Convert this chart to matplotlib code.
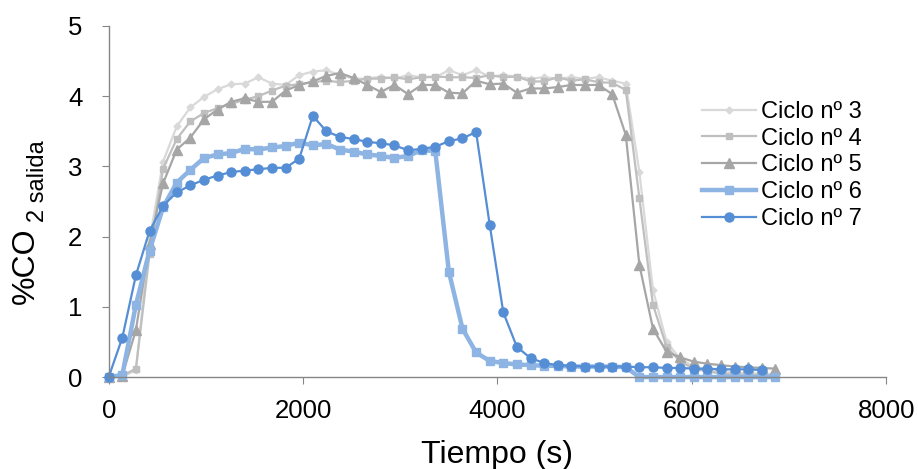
import matplotlib.pyplot as plt

plt.rcParams['font.family'] = ['Liberation Sans', 'DejaVu Sans']

# Tiempo (s), muestreo cada 140 s
tiempo = [0, 140, 280, 420, 560, 700, 840, 980, 1120, 1260,
          1400, 1540, 1680, 1820, 1960, 2100, 2240, 2380, 2520, 2660,
          2800, 2940, 3080, 3220, 3360, 3500, 3640, 3780, 3920, 4060,
          4200, 4340, 4480, 4620, 4760, 4900, 5040, 5180, 5320, 5460,
          5600, 5740, 5880, 6020, 6160, 6300, 6440, 6580, 6720, 6860]

ciclo3 = [0.00, 0.00, 0.10, 1.95, 3.07, 3.57, 3.84, 3.99, 4.10, 4.17,
          4.18, 4.27, 4.18, 4.16, 4.30, 4.35, 4.37, 4.30, 4.25, 4.25,
          4.28, 4.25, 4.30, 4.27, 4.27, 4.37, 4.30, 4.37, 4.28, 4.30,
          4.28, 4.25, 4.27, 4.25, 4.27, 4.25, 4.27, 4.22, 4.18, 2.92,
          1.24, 0.50, 0.26, 0.15, 0.10, 0.08, 0.06, 0.05, 0.05, 0.04]

ciclo4 = [0.00, 0.02, 0.12, 1.75, 2.97, 3.39, 3.64, 3.76, 3.83, 3.89,
          3.95, 4.00, 4.08, 4.15, 4.17, 4.20, 4.22, 4.20, 4.22, 4.25,
          4.25, 4.27, 4.24, 4.27, 4.28, 4.27, 4.27, 4.26, 4.30, 4.27,
          4.28, 4.21, 4.21, 4.27, 4.22, 4.24, 4.20, 4.19, 4.09, 2.55,
          1.03, 0.43, 0.22, 0.12, 0.08, 0.05, 0.04, 0.03, 0.03, 0.02]

ciclo5 = [0.00, 0.02, 0.67, 1.90, 2.76, 3.24, 3.41, 3.67, 3.81, 3.92,
          3.97, 3.92, 3.92, 4.08, 4.16, 4.21, 4.29, 4.33, 4.26, 4.16,
          4.06, 4.16, 4.03, 4.16, 4.16, 4.05, 4.04, 4.22, 4.17, 4.18,
          4.05, 4.11, 4.11, 4.13, 4.16, 4.16, 4.16, 4.03, 3.45, 1.60,
          0.69, 0.36, 0.28, 0.22, 0.19, 0.17, 0.15, 0.14, 0.13, 0.12]

ciclo6 = [0.00, 0.03, 1.03, 1.80, 2.42, 2.77, 2.95, 3.12, 3.17, 3.19,
          3.25, 3.24, 3.27, 3.29, 3.34, 3.30, 3.32, 3.24, 3.21, 3.17,
          3.15, 3.12, 3.15, 3.23, 3.22, 1.50, 0.69, 0.35, 0.23, 0.20,
          0.18, 0.17, 0.16, 0.16, 0.15, 0.15, 0.15, 0.15, 0.14, 0.00,
          0.00, 0.00, 0.00, 0.00, 0.00, 0.00, 0.00, 0.00, 0.00, 0.00]

ciclo7 = [0.00, 0.56, 1.45, 2.08, 2.44, 2.63, 2.73, 2.81, 2.87, 2.92,
          2.94, 2.96, 2.98, 2.98, 3.11, 3.72, 3.50, 3.42, 3.39, 3.35,
          3.33, 3.30, 3.23, 3.25, 3.28, 3.36, 3.40, 3.49, 2.17, 0.92,
          0.43, 0.27, 0.20, 0.17, 0.16, 0.15, 0.15, 0.15, 0.15, 0.14,
          0.14, 0.13, 0.13, 0.12, 0.12, 0.11, 0.11, 0.11, 0.10]

fig = plt.figure(figsize=(9.18, 4.69), dpi=100)
ax = fig.add_axes([0.1184, 0.196, 0.847, 0.7486])

ax.plot(tiempo, ciclo3, color='#D9D9D9', lw=1.6, marker='D', ms=3.5,
        label='Ciclo nº 3', clip_on=False)
ax.plot(tiempo, ciclo4, color='#BFBFBF', lw=1.6, marker='s', ms=5,
        label='Ciclo nº 4', clip_on=False)
ax.plot(tiempo, ciclo5, color='#A6A6A6', lw=1.6, marker='^', ms=6.5,
        label='Ciclo nº 5', clip_on=False)
ax.plot(tiempo, ciclo6, color='#8DB4E2', lw=3.2, marker='s', ms=5.5,
        label='Ciclo nº 6', clip_on=False)
ax.plot(tiempo[:len(ciclo7)], ciclo7, color='#558ED5', lw=1.6, marker='o', ms=6.5,
        label='Ciclo nº 7', clip_on=False)

ax.set_xlim(0, 8000)
ax.set_ylim(0, 5)
ax.set_xticks([0, 2000, 4000, 6000, 8000])
ax.set_yticks([0, 1, 2, 3, 4, 5])

for s in ['top', 'right']:
    ax.spines[s].set_visible(False)
for s in ['left', 'bottom']:
    ax.spines[s].set_color('#868686')
    ax.spines[s].set_linewidth(1.0)
ax.tick_params(colors='#868686', labelcolor='black', labelsize=18.5, length=5, direction='out')
ax.tick_params(axis='x', pad=11)
ax.tick_params(axis='y', pad=14)

ax.set_xlabel('Tiempo (s)', fontsize=23, labelpad=12)

# etiqueta Y: "%CO" + subíndice "2 salida"
ylab = fig.text(0.012, 0.352, '%CO', rotation=90, fontsize=23, ha='left', va='bottom')
ax.annotate('2 salida', xy=(1, 1), xycoords=ylab, xytext=(6, 4), textcoords='offset points',
            rotation=90, fontsize=17, ha='right', va='bottom')

ax.legend(loc='upper left', bbox_to_anchor=(0.752, 0.81), bbox_transform=fig.transFigure,
          frameon=False, fontsize=17, handlelength=2.3, handletextpad=0.2,
          labelspacing=0.2, borderpad=0)

plt.savefig('out.png', dpi=100)
